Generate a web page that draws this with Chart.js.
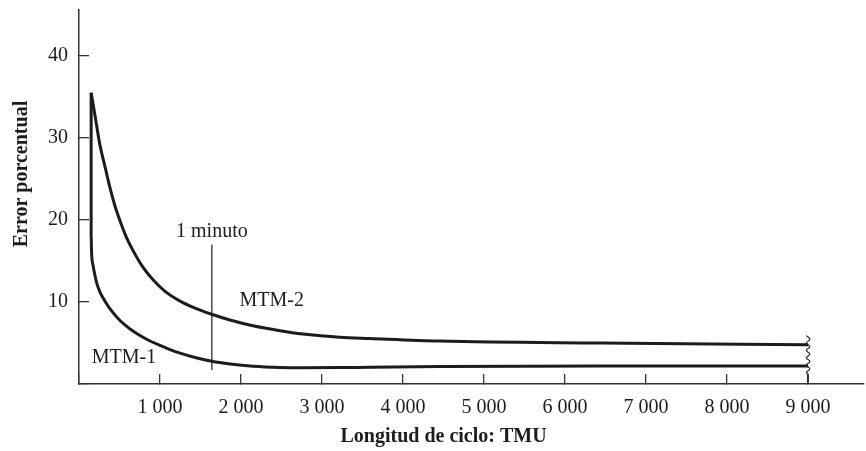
<!DOCTYPE html>
<html>
<head>
<meta charset="utf-8">
<script src="https://cdn.jsdelivr.net/npm/chart.js@4/dist/chart.umd.min.js"></script>
<style>
  body { margin: 0; background: #fff; }
  #wrap { width: 866px; height: 451px; }
</style>
</head>
<body>
<div id="wrap"><canvas id="chart1" width="866" height="451"></canvas></div>
<script>
// curve readings (x in TMU, y in %)
const mtm1X = [150, 150, 154, 173, 198, 222, 259, 321, 407, 506, 630, 753, 877, 1000, 1123, 1247, 1432, 1638, 1864, 2148, 2481, 2765, 3222, 3593, 4457, 6432, 9000];
const mtm1Y = [35.5, 18.2, 16.3, 14.5, 13.2, 12.2, 11.2, 10.1, 8.85, 7.74, 6.71, 5.91, 5.24, 4.7, 4.2, 3.76, 3.23, 2.77, 2.44, 2.16, 2.01, 1.98, 2.0, 2.05, 2.12, 2.2, 2.2];
const mtm2X = [150, 198, 259, 321, 383, 444, 506, 580, 654, 778, 914, 1062, 1247, 1432, 1638, 1864, 2148, 2481, 2765, 3222, 3593, 4457, 6432, 9000];
const mtm2Y = [35.5, 32.7, 29.1, 26.5, 23.9, 21.7, 19.9, 18.0, 16.5, 14.4, 12.7, 11.3, 10.1, 9.25, 8.5, 7.8, 7.1, 6.5, 6.1, 5.7, 5.55, 5.24, 5.0, 4.8];
const minuteX = 1640;
const minuteY = [17.0, 1.7];
const xTicks = [0, 1000, 2000, 3000, 4000, 5000, 6000, 7000, 8000, 9000];
const yTicks = [0, 10, 20, 30, 40];

function pts(xs, ys) {
  return xs.map((x, i) => ({ x: x, y: ys[i] }));
}

// wavy break mark at the 9000 end
const breakPts = [];
for (let k = 0; k <= 10; k++) {
  breakPts.push({ x: 9000 + (k % 2 ? 22 : -22), y: 5.9 - k * 0.45 });
}
breakPts.push({ x: 9000, y: 1.2 });
breakPts.push({ x: 9000, y: 0 });

const serif = "'Liberation Serif', 'Times New Roman', serif";
const ink = "#1c1c1c";

const textPlugin = {
  id: "texts",
  afterDraw(chart) {
    const ctx = chart.ctx;
    const xs = chart.scales.x, ys = chart.scales.y;
    ctx.save();
    ctx.fillStyle = ink;
    ctx.textBaseline = "middle";
    ctx.textAlign = "center";
    ctx.font = "20px " + serif;
    ctx.fillText("1 minuto", xs.getPixelForValue(minuteX), ys.getPixelForValue(18.6));
    ctx.fillText("MTM-2", xs.getPixelForValue(2380), ys.getPixelForValue(10.2));
    ctx.fillText("MTM-1", xs.getPixelForValue(555), ys.getPixelForValue(3.2));
    ctx.font = "bold 20px " + serif;
    ctx.fillText("Longitud de ciclo: TMU", (xs.getPixelForValue(0) + xs.getPixelForValue(9000)) / 2, 437);
    ctx.translate(22, ys.getPixelForValue(25.6));
    ctx.rotate(-Math.PI / 2);
    ctx.fillText("Error porcentual", 0, 0);
    ctx.restore();
  }
};

const ctx = document.getElementById("chart1").getContext("2d");
new Chart(ctx, {
  type: "line",
  data: {
    datasets: [
      { label: "MTM-1", data: pts(mtm1X, mtm1Y), borderColor: ink, borderWidth: 3, cubicInterpolationMode: "monotone" },
      { label: "MTM-2", data: pts(mtm2X, mtm2Y), borderColor: ink, borderWidth: 3, cubicInterpolationMode: "monotone" },
      { label: "1 minuto", data: pts([minuteX, minuteX], minuteY), borderColor: ink, borderWidth: 1.2, tension: 0 },
      { label: "corte", data: breakPts, borderColor: ink, borderWidth: 1.1, tension: 0.45 }
    ]
  },
  options: {
    responsive: false,
    animation: false,
    layout: { padding: { top: 10, right: 2, left: 0, bottom: 0 } },
    elements: { point: { radius: 0 }, line: { borderCapStyle: "butt", fill: false } },
    plugins: { legend: { display: false }, tooltip: { enabled: false } },
    scales: {
      x: {
        type: "linear",
        min: 0,
        max: 9690,
        afterBuildTicks: s => { s.ticks = xTicks.map(v => ({ value: v })); },
        afterFit: s => { s.height = 67; s.paddingLeft = 0; s.paddingRight = 0; },
        grid: { drawOnChartArea: false, tickLength: -10, color: "#333", lineWidth: 1.3 },
        border: { color: "#333", width: 1.5 },
        ticks: {
          padding: 22,
          color: ink,
          font: { family: serif, size: 20 },
          maxRotation: 0,
          callback: v => v === 0 ? "" : String(v).replace(/\B(?=(\d{3})+$)/g, " ")
        }
      },
      y: {
        type: "linear",
        min: 0,
        max: 45.6,
        afterBuildTicks: s => { s.ticks = yTicks.map(v => ({ value: v })); },
        afterFit: s => { s.width = 79; s.paddingTop = 0; s.paddingBottom = 0; },
        grid: { drawOnChartArea: false, tickLength: -10, color: "#333", lineWidth: 1.3 },
        border: { color: "#333", width: 1.5 },
        ticks: {
          padding: 21,
          color: ink,
          font: { family: serif, size: 20 },
          callback: v => v === 0 ? "" : String(v)
        }
      }
    }
  },
  plugins: [textPlugin]
});
</script>
</body>
</html>
